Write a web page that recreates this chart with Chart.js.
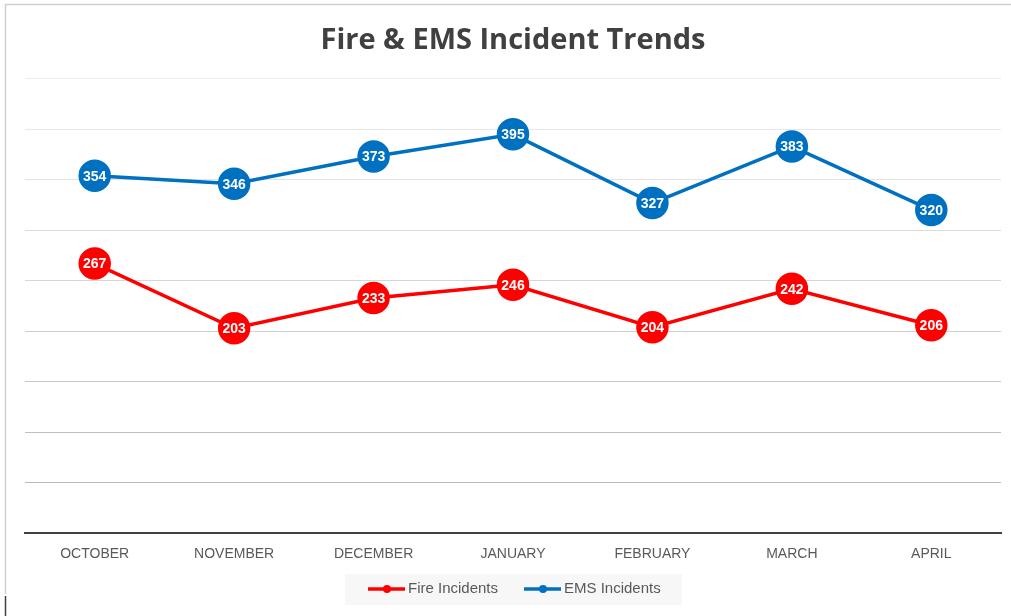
<!DOCTYPE html>
<html lang="en">
<head>
    <meta charset="UTF-8">
    <title>Fire & EMS Incident Trends</title>
    <script src="https://cdn.jsdelivr.net/npm/chart.js"></script>
    <style>
        body { margin: 0; background: #fff; }
        canvas { display: block; }
    </style>
</head>
<body>
    <canvas id="trendChart" width="1011" height="616"></canvas>

    <script>
        const months = ['OCTOBER', 'NOVEMBER', 'DECEMBER', 'JANUARY', 'FEBRUARY', 'MARCH', 'APRIL'];
        const fireIncidents = [267, 203, 233, 246, 204, 242, 206];
        const emsIncidents = [354, 346, 373, 395, 327, 383, 320];

        const FIRE_RED = '#ff0000';
        const EMS_BLUE = '#0070c0';

        // frame round the chart, like the spreadsheet export
        const framePlugin = {
            id: 'frame',
            beforeDraw(chart) {
                const ctx = chart.ctx;
                ctx.save();
                ctx.strokeStyle = '#d0d0d0';
                ctx.lineWidth = 1.5;
                ctx.beginPath();
                ctx.moveTo(5.5, 594);
                ctx.lineTo(5.5, 4.5);
                ctx.lineTo(1011, 4.5);
                ctx.stroke();
                ctx.strokeStyle = '#404040';
                ctx.beginPath();
                ctx.moveTo(5.5, 596);
                ctx.lineTo(5.5, 616);
                ctx.stroke();
                ctx.restore();
            }
        };

        // white value labels inside the markers
        const valueLabels = {
            id: 'valueLabels',
            afterDatasetsDraw(chart) {
                const ctx = chart.ctx;
                ctx.save();
                ctx.font = 'bold 14px "Liberation Sans", Arial, sans-serif';
                ctx.fillStyle = '#ffffff';
                ctx.textAlign = 'center';
                ctx.textBaseline = 'middle';
                chart.data.datasets.forEach((ds, i) => {
                    chart.getDatasetMeta(i).data.forEach((pt, j) => {
                        ctx.fillText(ds.data[j], pt.x, pt.y + 1);
                    });
                });
                ctx.restore();
            }
        };

        // legend: line with a dot, on a light grey box
        const lineLegend = {
            id: 'lineLegend',
            afterDraw(chart) {
                const ctx = chart.ctx;
                ctx.save();
                ctx.fillStyle = '#f7f7f7';
                ctx.fillRect(345, 574, 337, 31);
                ctx.font = '15px "Liberation Sans", Arial, sans-serif';
                ctx.textBaseline = 'middle';
                ctx.textAlign = 'left';
                const y = 589;
                const items = [
                    { x: 368, text: chart.data.datasets[0].label, color: FIRE_RED },
                    { x: 524, text: chart.data.datasets[1].label, color: EMS_BLUE }
                ];
                items.forEach(item => {
                    ctx.strokeStyle = item.color;
                    ctx.lineWidth = 3.5;
                    ctx.beginPath();
                    ctx.moveTo(item.x, y);
                    ctx.lineTo(item.x + 37, y);
                    ctx.stroke();
                    ctx.fillStyle = item.color;
                    ctx.beginPath();
                    ctx.arc(item.x + 19, y, 4, 0, Math.PI * 2);
                    ctx.fill();
                    ctx.fillStyle = '#595959';
                    ctx.fillText(item.text, item.x + 40, y);
                });
                ctx.restore();
            }
        };

        const gridShades = ['#404040', '#b8b8b8', '#c0c0c0', '#c8c8c8', '#d0d0d0', '#d6d6d6', '#dcdcdc', '#e2e2e2', '#e8e8e8', '#ececec'];

        const ctx = document.getElementById('trendChart').getContext('2d');
        new Chart(ctx, {
            type: 'line',
            data: {
                labels: months,
                datasets: [
                    {
                        label: 'Fire Incidents',
                        data: fireIncidents,
                        borderColor: FIRE_RED,
                        backgroundColor: FIRE_RED,
                        pointBackgroundColor: FIRE_RED,
                        pointBorderColor: FIRE_RED,
                        borderWidth: 3.5,
                        pointRadius: 14.5,
                        pointHoverRadius: 14.5,
                        tension: 0,
                        fill: false
                    },
                    {
                        label: 'EMS Incidents',
                        data: emsIncidents,
                        borderColor: EMS_BLUE,
                        backgroundColor: EMS_BLUE,
                        pointBackgroundColor: EMS_BLUE,
                        pointBorderColor: EMS_BLUE,
                        borderWidth: 3.5,
                        pointRadius: 14.5,
                        pointHoverRadius: 14.5,
                        tension: 0,
                        fill: false
                    }
                ]
            },
            options: {
                responsive: false,
                animation: false,
                layout: {
                    autoPadding: false,
                    padding: { left: 25, right: 10, top: 0, bottom: 40 }
                },
                plugins: {
                    title: {
                        display: true,
                        text: 'Fire & EMS Incident Trends',
                        color: '#404040',
                        font: { family: '"Open Sans", "Liberation Sans", sans-serif', size: 29, weight: 'bold' },
                        padding: { top: 23, bottom: 21 }
                    },
                    legend: { display: false },
                    tooltip: { enabled: false }
                },
                scales: {
                    x: {
                        offset: true,
                        grid: { display: false, drawTicks: false },
                        border: { display: true, color: '#404040', width: 2 },
                        ticks: {
                            color: '#595959',
                            padding: 13,
                            font: { family: '"Liberation Sans", Arial, sans-serif', size: 14 }
                        }
                    },
                    y: {
                        min: 0,
                        max: 450,
                        ticks: { display: false, stepSize: 50 },
                        border: { display: false },
                        grid: {
                            drawTicks: false,
                            lineWidth: 1,
                            color: c => gridShades[c.index] || '#e8e8e8'
                        }
                    }
                }
            },
            plugins: [framePlugin, valueLabels, lineLegend]
        });
    </script>
</body>
</html>
